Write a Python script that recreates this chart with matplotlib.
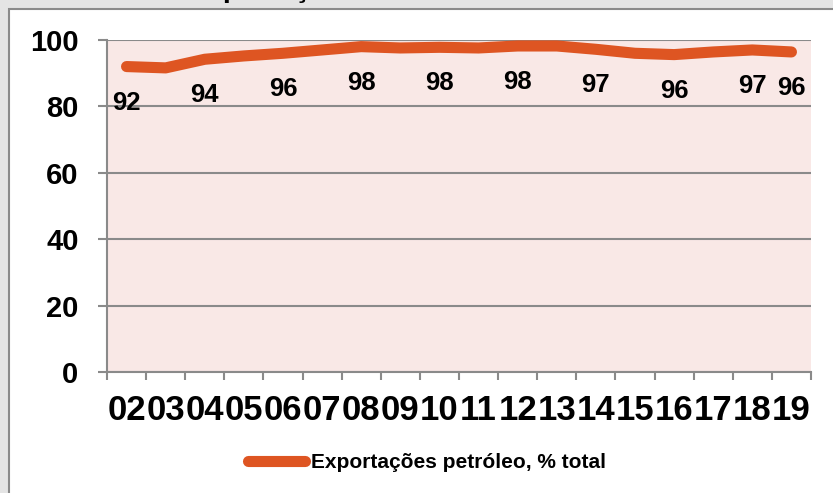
import numpy as np
import matplotlib
matplotlib.use("Agg")
import matplotlib.pyplot as plt
from matplotlib.patches import Rectangle

# data
years = ["02", "03", "04", "05", "06", "07", "08", "09", "10",
         "11", "12", "13", "14", "15", "16", "17", "18", "19"]
oil_share = [92, 91.6, 94.2, 95.2, 96, 97, 98, 97.6, 97.8,
             97.6, 98.2, 98.2, 97.2, 96, 95.6, 96.4, 97, 96.4]
labelled = [0, 2, 4, 6, 8, 10, 12, 14, 16, 17]
label_text = ["92", "94", "96", "98", "98", "98", "97", "96", "97", "96"]
y_ticks = [0, 20, 40, 60, 80, 100]

plt.rcParams['font.family'] = ['Liberation Sans', 'DejaVu Sans']
plt.rcParams['font.weight'] = 'bold'

line_col = '#DE5522'
grid_col = '#8A8A8A'

fig = plt.figure(figsize=(8.33, 4.93), dpi=100)
fig.patch.set_facecolor('#E4E4E4')

# white chart frame (behind the axes)
frame = Rectangle((9 / 833, -0.05), 1.1, 1 - 9 / 493 + 0.05,
                  transform=fig.transFigure, facecolor='white',
                  edgecolor=grid_col, linewidth=1.5, zorder=-5)
fig.patches.append(frame)

# clipped title, only descenders peek in at the top
fig.text(188 / 833, 1 + 3 / 493, "Exportações", fontsize=20.5,
         fontweight='bold', ha='left', va='baseline')

ax = fig.add_axes([107 / 833, 1 - 372 / 493, (811 - 107) / 833, (372 - 40) / 493])
ax.set_facecolor('#F9E8E6')

x = np.arange(len(years))
ax.plot(x, oil_share, color=line_col, lw=8, solid_joinstyle='round',
        solid_capstyle='round', zorder=3, label='Exportações petróleo, % total')

for i, t in zip(labelled, label_text):
    ax.annotate(t, (x[i], oil_share[i]), xytext=(0, -26), textcoords='offset points',
                ha='center', va='center', fontsize=18.5, fontweight='bold', zorder=4)

ax.set_xlim(-0.5, len(years) - 0.5)
ax.set_ylim(0, 100)
ax.set_yticks(y_ticks)
ax.set_yticklabels([str(v) for v in y_ticks])
ax.yaxis.grid(True, color=grid_col, lw=1.5)
ax.set_axisbelow(True)

ax.set_xticks(x)
ax.set_xticklabels(years)
ax.set_xticks(np.arange(-0.5, len(years)), minor=True)
ax.tick_params(axis='x', which='major', length=0, pad=16, labelsize=25)
ax.tick_params(axis='x', which='minor', length=6, width=1.5, color=grid_col)
ax.tick_params(axis='y', length=6.5, width=1.5, color=grid_col, pad=14, labelsize=21)

for s in ['top', 'right']:
    ax.spines[s].set_visible(False)
for s in ['left', 'bottom']:
    ax.spines[s].set_color(grid_col)
    ax.spines[s].set_linewidth(1.5)

fig.legend(loc='center', bbox_to_anchor=(427 / 833, 1 - 463 / 493), frameon=False,
           prop={'size': 15, 'weight': 'bold'}, handlelength=2.7, handletextpad=0.3)

fig.savefig('out.png', dpi=100, facecolor=fig.get_facecolor())
